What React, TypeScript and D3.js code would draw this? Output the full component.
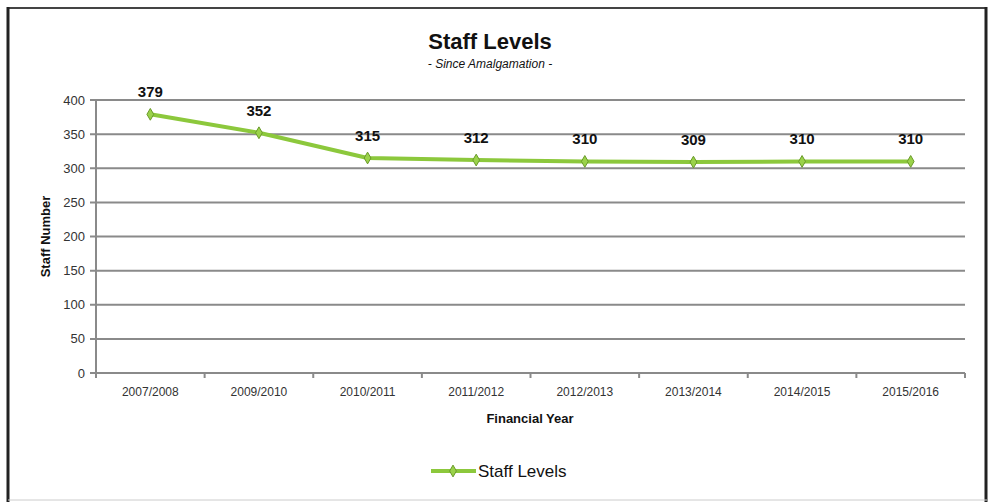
import * as d3 from "d3";

const years = [
  "2007/2008",
  "2009/2010",
  "2010/2011",
  "2011/2012",
  "2012/2013",
  "2013/2014",
  "2014/2015",
  "2015/2016",
];
const staff = [379, 352, 315, 312, 310, 309, 310, 310];
const yTicks = [0, 50, 100, 150, 200, 250, 300, 350, 400];

const W = 989;
const H = 502;
const MARGIN = { top: 100, right: 24, bottom: 129, left: 96 };
const FONT = "'Liberation Sans Narrow', 'Liberation Sans', Arial, sans-serif";
const GREEN = "#8cc83c";

export default function App() {
  const boundsWidth = W - MARGIN.left - MARGIN.right;
  const boundsHeight = H - MARGIN.top - MARGIN.bottom;

  const xScale = d3.scaleBand().domain(years).range([0, boundsWidth]);
  const yScale = d3.scaleLinear().domain([0, 400]).range([boundsHeight, 0]);

  const line = d3
    .line<number>()
    .x((_, i) => (xScale(years[i]) ?? 0) + xScale.bandwidth() / 2)
    .y((d) => yScale(d));

  const diamond = d3.symbol(d3.symbolDiamond, 40)() ?? "";

  return (
    <svg
      width={W}
      height={H}
      style={{ position: "absolute", left: 0, top: 0, background: "#fff" }}
    >
      {/* frame */}
      <rect x={0} y={0} width={W} height={H} fill="#fff" />
      <line x1={8} y1={8} x2={987} y2={8} stroke="#444" strokeWidth={2} />
      <line x1={8} y1={7} x2={8} y2={502} stroke="#222" strokeWidth={3} />
      <line x1={986} y1={7} x2={986} y2={502} stroke="#222" strokeWidth={3} />
      <line x1={8} y1={500} x2={987} y2={500} stroke="#ccc" strokeWidth={1} />

      <text
        x={490}
        y={49}
        textAnchor="middle"
        fontFamily="'Liberation Sans', Arial, sans-serif"
        fontWeight="bold"
        fontSize={22}
        fill="#111"
      >
        Staff Levels
      </text>
      <text
        x={490}
        y={68}
        textAnchor="middle"
        fontFamily={FONT}
        fontStyle="italic"
        fontSize={12}
        fill="#111"
      >
        - Since Amalgamation -
      </text>

      <g transform={`translate(${MARGIN.left},${MARGIN.top})`}>
        {yTicks.map((t) => (
          <g key={t}>
            <line
              x1={-6}
              x2={boundsWidth}
              y1={yScale(t)}
              y2={yScale(t)}
              stroke="#8a8a8a"
              strokeWidth={2}
            />
            <text
              x={-11}
              y={yScale(t)}
              dy="0.35em"
              textAnchor="end"
              fontFamily={FONT}
              fontSize={13}
              fill="#333"
            >
              {t}
            </text>
          </g>
        ))}
        <line x1={0} x2={0} y1={0} y2={boundsHeight} stroke="#8a8a8a" strokeWidth={2} />
        {years.map((y, i) => (
          <g key={y}>
            <line
              x1={(xScale(y) ?? 0) + xScale.bandwidth()}
              x2={(xScale(y) ?? 0) + xScale.bandwidth()}
              y1={boundsHeight}
              y2={boundsHeight + 5}
              stroke="#8a8a8a"
              strokeWidth={2}
            />
            {i === 0 && (
              <line x1={0} x2={0} y1={boundsHeight} y2={boundsHeight + 5} stroke="#8a8a8a" strokeWidth={2} />
            )}
            <text
              x={(xScale(y) ?? 0) + xScale.bandwidth() / 2}
              y={boundsHeight + 23}
              textAnchor="middle"
              fontFamily={FONT}
              fontSize={12}
              fill="#333"
            >
              {y}
            </text>
          </g>
        ))}

        <path d={line(staff) ?? ""} fill="none" stroke={GREEN} strokeWidth={4} strokeLinejoin="round" />
        {staff.map((v, i) => {
          const cx = (xScale(years[i]) ?? 0) + xScale.bandwidth() / 2;
          return (
            <g key={i}>
              <path
                d={diamond}
                transform={`translate(${cx},${yScale(v)})`}
                fill="#9ad24a"
                stroke="#6a9a2a"
                strokeWidth={1}
              />
              <text
                x={cx}
                y={yScale(v) - 17}
                textAnchor="middle"
                fontFamily={FONT}
                fontWeight="bold"
                fontSize={15}
                fill="#111"
              >
                {v}
              </text>
            </g>
          );
        })}
      </g>

      <text
        transform={`translate(50,${MARGIN.top + boundsHeight / 2}) rotate(-90)`}
        textAnchor="middle"
        fontFamily={FONT}
        fontWeight="bold"
        fontSize={13}
        fill="#111"
      >
        Staff Number
      </text>
      <text
        x={530}
        y={423}
        textAnchor="middle"
        fontFamily={FONT}
        fontWeight="bold"
        fontSize={13}
        fill="#111"
      >
        Financial Year
      </text>

      {/* legend */}
      <line x1={431} x2={476} y1={471} y2={471} stroke={GREEN} strokeWidth={4} />
      <path d={diamond} transform="translate(453,471)" fill="#9ad24a" stroke="#6a9a2a" strokeWidth={1} />
      <text x={478} y={477} fontFamily={FONT} fontSize={17} fill="#111">
        Staff Levels
      </text>
    </svg>
  );
}
